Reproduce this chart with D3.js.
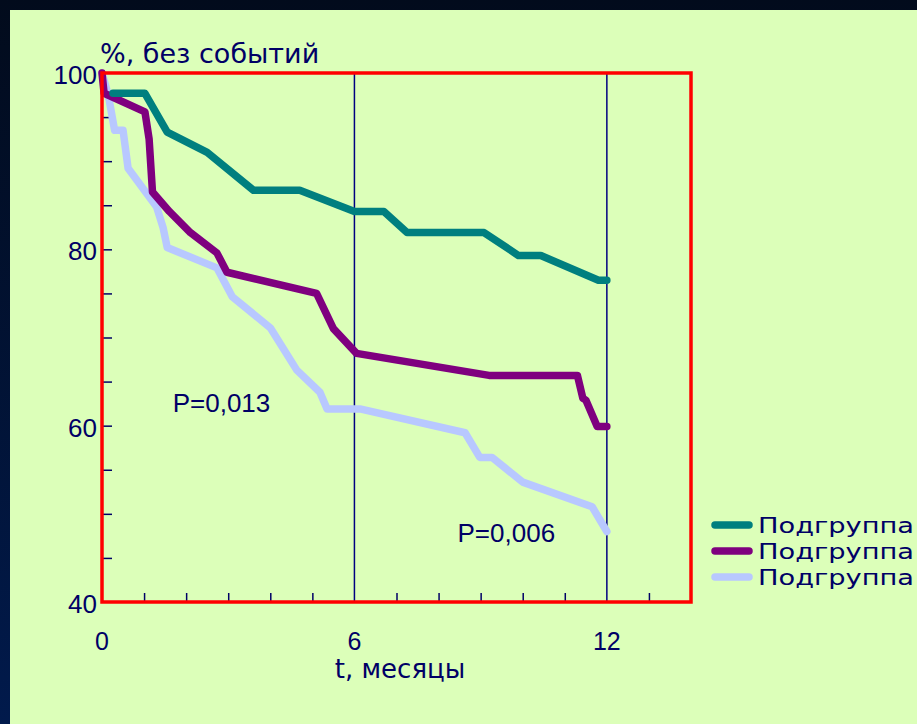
<!DOCTYPE html>
<html>
<head>
<meta charset="utf-8">
<script src="https://cdn.jsdelivr.net/npm/d3@7"></script>
<style>
  html, body { margin: 0; padding: 0; }
  body { width: 917px; height: 724px; overflow: hidden; }
</style>
</head>
<body>
<svg id="chart" width="917" height="724"></svg>
<script>
// ---- data ----
const seriesNames = ["Подгруппа", "Подгруппа", "Подгруппа"];
const seriesColors = ["#007f7f", "#7f007f", "#b8c8ff"];

const teal = [
  [0.26, 97.7], [1.02, 97.7], [1.55, 93.3], [2.5, 91.0], [3.6, 86.7], [4.7, 86.7],
  [6.0, 84.3], [6.7, 84.3], [7.25, 81.9], [9.08, 81.9], [9.9, 79.3], [10.43, 79.3],
  [11.8, 76.5], [12.0, 76.5]
];
const purple = [
  [0.0, 100], [0.05, 97.7], [1.02, 95.6], [1.12, 92.5], [1.2, 86.5], [1.6, 84.3],
  [2.1, 81.9], [2.73, 79.6], [2.97, 77.4], [5.1, 75.0], [5.5, 71.0], [6.05, 68.2],
  [9.2, 65.7], [11.3, 65.7], [11.43, 63.1], [11.5, 62.9], [11.77, 59.9], [12.0, 59.9]
];
const lightBlue = [
  [0.0, 100], [0.15, 97.5], [0.3, 93.5], [0.5, 93.5], [0.62, 89.2], [1.3, 84.8],
  [1.45, 82.5], [1.55, 80.2], [2.73, 77.9], [3.1, 74.6], [4.0, 71.1], [4.63, 66.3],
  [5.18, 63.8], [5.35, 61.9], [6.13, 61.9], [8.63, 59.2], [8.98, 56.4], [9.27, 56.4],
  [10.0, 53.6], [11.65, 50.8], [12.0, 48.0]
];
const seriesData = [teal, purple, lightBlue];

const xTicks = [0, 6, 12];
const yTicks = [40, 60, 80, 100];
const xMinorTicks = [1, 2, 3, 4, 5, 7, 8, 9, 10, 11, 13];
const yMinorTicks = [45, 50, 55, 65, 70, 75, 85, 90, 95];
const refLines = [6, 12];
const pLabels = [
  {text: "P=0,013", t: 1.68, v: 61.5},
  {text: "P=0,006", t: 8.45, v: 46.8}
];
const yTitle = "%, без событий";
const xTitle = "t, месяцы";

// ---- drawing ----
const svg = d3.select("#chart");
const navy = "#000066";

const defs = svg.append("defs");
const grad = defs.append("linearGradient").attr("id", "bg")
  .attr("x1", 0).attr("y1", 0).attr("x2", 0).attr("y2", 1);
grad.append("stop").attr("offset", "0%").attr("stop-color", "#020b1c");
grad.append("stop").attr("offset", "100%").attr("stop-color", "#011a4c");

svg.append("rect").attr("width", 917).attr("height", 724).attr("fill", "url(#bg)");
svg.append("rect").attr("x", 10).attr("y", 10).attr("width", 907).attr("height", 714)
  .attr("fill", "#dcffb9");

const x = d3.scaleLinear().domain([0, 14]).range([102, 691]);
const y = d3.scaleLinear().domain([40, 100]).range([602, 73]);

// reference vertical lines
svg.selectAll(".ref").data(refLines).enter().append("line")
  .attr("x1", d => x(d)).attr("x2", d => x(d))
  .attr("y1", y(100)).attr("y2", y(40))
  .attr("stroke", "#000080").attr("stroke-width", 1.5);

// minor ticks
const bottomAxis = d3.axisBottom(x).tickValues(xMinorTicks).tickSize(-9).tickFormat("");
const gx = svg.append("g").attr("transform", `translate(0,${y(40)})`).call(bottomAxis);
gx.select(".domain").remove();
gx.selectAll("line").attr("stroke", navy).attr("stroke-width", 1.5);

const leftAxis = d3.axisLeft(y).tickValues(yMinorTicks.concat([60, 80])).tickSize(-10).tickFormat("");
const gy = svg.append("g").attr("transform", `translate(${x(0)},0)`).call(leftAxis);
gy.select(".domain").remove();
gy.selectAll("line").attr("stroke", navy).attr("stroke-width", 1.5);

// series lines
const line = d3.line().x(d => x(d[0])).y(d => y(d[1]));
seriesData.slice().reverse().forEach((s, i) => {
  const idx = seriesData.length - 1 - i;
  svg.append("path").datum(s).attr("d", line)
    .attr("fill", "none").attr("stroke", seriesColors[idx])
    .attr("stroke-width", 7.5).attr("stroke-linejoin", "round").attr("stroke-linecap", "round");
});

// frame
svg.append("rect").attr("x", x(0)).attr("y", y(100))
  .attr("width", x(14) - x(0)).attr("height", y(40) - y(100))
  .attr("fill", "none").attr("stroke", "#ff0000").attr("stroke-width", 3.5);

// tick labels
svg.selectAll(".ylab").data(yTicks).enter().append("text")
  .attr("x", x(0) - 5).attr("y", d => y(d) + 4)
  .attr("text-anchor", "end").attr("dominant-baseline", "middle")
  .attr("font-family", "Liberation Sans, Arial, sans-serif").attr("font-size", 26)
  .attr("fill", navy).text(d => d);

svg.selectAll(".xlab").data(xTicks).enter().append("text")
  .attr("x", d => x(d)).attr("y", 650)
  .attr("text-anchor", "middle")
  .attr("font-family", "Liberation Sans, Arial, sans-serif").attr("font-size", 25)
  .attr("fill", navy).text(d => d);

// titles
svg.append("text").attr("x", 100).attr("y", 63)
  .attr("font-family", "DejaVu Sans, Verdana, sans-serif").attr("font-size", 27)
  .attr("fill", navy).text(yTitle);
svg.append("text").attr("x", 400).attr("y", 678).attr("text-anchor", "middle")
  .attr("font-family", "DejaVu Sans, Verdana, sans-serif").attr("font-size", 26)
  .attr("fill", navy).text(xTitle);

// P labels
svg.selectAll(".plab").data(pLabels).enter().append("text")
  .attr("x", d => x(d.t)).attr("y", d => y(d.v))
  .attr("font-family", "Liberation Sans, Arial, sans-serif").attr("font-size", 26)
  .attr("fill", navy).text(d => d.text);

// legend
const legend = svg.append("g").attr("transform", "translate(713,525)");
seriesNames.forEach((name, i) => {
  const g = legend.append("g").attr("transform", `translate(0,${i * 26})`);
  g.append("line").attr("x1", 2).attr("x2", 36).attr("y1", 0).attr("y2", 0)
    .attr("stroke", seriesColors[i]).attr("stroke-width", 7.5).attr("stroke-linecap", "round");
  g.append("text").attr("x", 45).attr("y", 8)
    .attr("font-family", "DejaVu Sans, Verdana, sans-serif").attr("font-size", 22)
    .attr("textLength", 156).attr("lengthAdjust", "spacingAndGlyphs")
    .attr("fill", navy).text(name);
});
</script>
</body>
</html>
